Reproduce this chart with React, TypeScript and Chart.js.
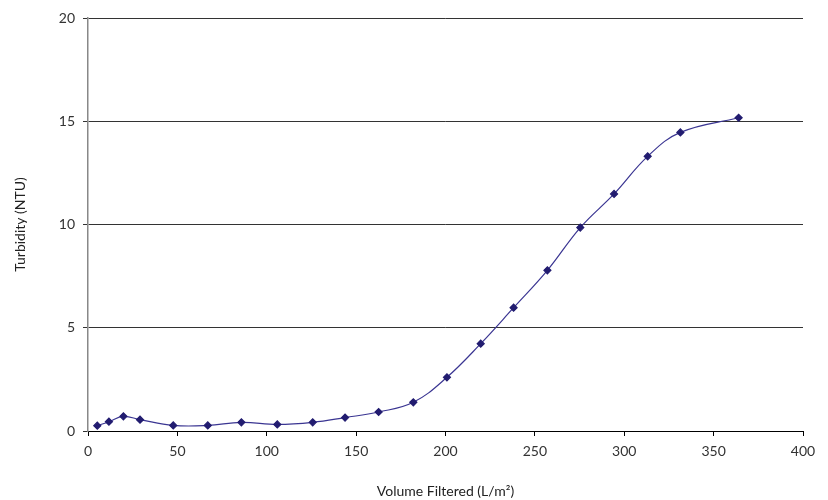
import React, { useEffect, useRef } from "react";
import { Chart, registerables } from "chart.js";

Chart.register(...registerables);

const volumeFiltered = [5.2, 11.7, 19.8, 29.1, 47.7, 67.0, 85.8, 105.9, 125.7, 143.8, 162.6, 182.0, 200.8, 219.7, 238.1, 257.0, 275.4, 294.3, 313.1, 331.4, 364.0];
const turbidity = [0.26, 0.45, 0.71, 0.55, 0.27, 0.27, 0.42, 0.32, 0.42, 0.65, 0.92, 1.39, 2.6, 4.23, 5.97, 7.78, 9.85, 11.48, 13.3, 14.46, 15.17];
const xTitle = "Volume Filtered (L/m\u00B2)";
const yTitle = "Turbidity (NTU)";

export default function App() {
  const ref = useRef<HTMLCanvasElement | null>(null);
  useEffect(() => {
    document.body.style.margin = "0";
    const ctx = ref.current!.getContext("2d")!;
    const font = { family: "Lato, 'Open Sans', sans-serif", size: 14 };
    const chart = new Chart(ctx, {
      type: "line",
      data: {
        datasets: [
          {
            data: volumeFiltered.map((x, i) => ({ x, y: turbidity[i] })),
            borderColor: "#3a3592",
            borderWidth: 1.2,
            backgroundColor: "#221c70",
            pointBackgroundColor: "#221c70",
            pointBorderColor: "#221c70",
            pointStyle: "rectRot",
            pointRadius: 3.5,
            tension: 0.4,
            fill: false,
          },
        ],
      },
      options: {
        animation: false,
        responsive: false,
        maintainAspectRatio: false,
        plugins: { legend: { display: false }, tooltip: { enabled: false } },
        layout: { padding: { left: 0, right: 25, top: 18, bottom: 0 } },
        scales: {
          x: {
            type: "linear",
            min: 0,
            max: 400,
            ticks: { stepSize: 50, color: "#333", font, padding: 7 },
            grid: { drawOnChartArea: false, drawTicks: true, tickLength: 5, color: "#000" },
            border: { color: "#000", width: 1 },
            title: { display: true, text: xTitle, color: "#222", font, padding: { top: 6, bottom: 0 } },
            afterFit: (s: any) => { s.height = 69; },
          },
          y: {
            min: 0,
            max: 20,
            ticks: { stepSize: 5, color: "#333", font, padding: 8 },
            grid: { color: "#333", tickLength: 5, lineWidth: 1 },
            border: { color: "#888", width: 1.5 },
            title: { display: true, text: yTitle, color: "#222", font, padding: { top: 12, bottom: 4 } },
            afterFit: (s: any) => { s.width = 88; },
          },
        },
      },
    });
    return () => chart.destroy();
  }, []);
  return (
    <div style={{ width: 828, height: 500 }}>
      <canvas ref={ref} width={828} height={500} style={{ width: 828, height: 500, display: "block" }} />
    </div>
  );
}
